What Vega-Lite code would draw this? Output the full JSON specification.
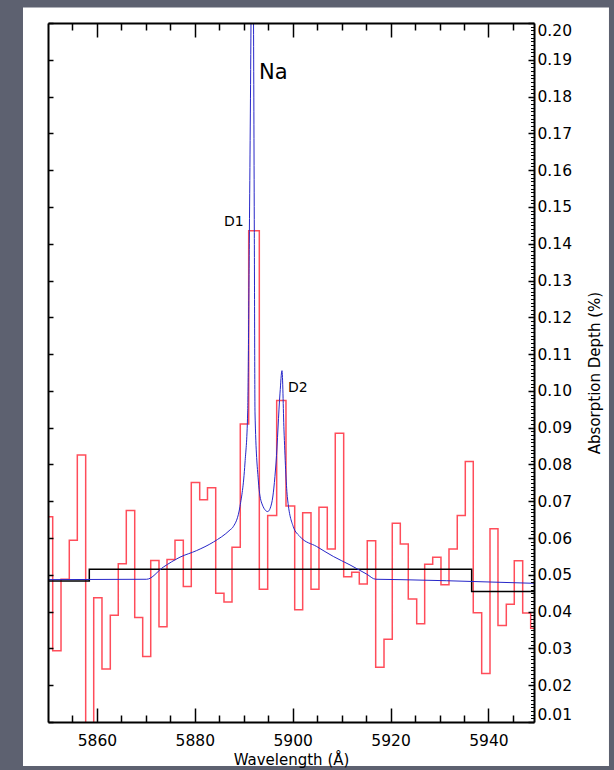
{
  "$schema": "https://vega.github.io/schema/vega-lite/v6.json",
  "autosize": {"type": "none"},
  "padding": {"left": 48, "top": 23, "right": 80, "bottom": 48},
  "width": 486,
  "height": 699,
  "background": "#5d6170",
  "config": {
    "view": {"stroke": null},
    "font": "DejaVu Sans",
    "axis": {"zindex": 1, "grid": false, "domainColor": "#000000", "domainWidth": 2, "tickColor": "#000000", "tickWidth": 1.5, "labelColor": "#000000", "titleColor": "#000000", "labelFont": "DejaVu Sans", "titleFont": "DejaVu Sans", "labelFontSize": 15.5, "titleFontSize": 15, "titleFontWeight": "normal"}
  },
  "datasets": {
    "spectrum": [
      {"w": 5850.00, "d": 0.0658}, {"w": 5850.96, "d": 0.0294}, {"w": 5852.66, "d": 0.0488}, {"w": 5854.35, "d": 0.0594},
      {"w": 5855.99, "d": 0.0826}, {"w": 5857.70, "d": 0.0}, {"w": 5859.34, "d": 0.0438}, {"w": 5861.03, "d": 0.0244},
      {"w": 5862.73, "d": 0.0390}, {"w": 5864.36, "d": 0.0530}, {"w": 5866.00, "d": 0.0675}, {"w": 5867.72, "d": 0.0384},
      {"w": 5869.35, "d": 0.0278}, {"w": 5870.99, "d": 0.0539}, {"w": 5872.68, "d": 0.0359}, {"w": 5874.32, "d": 0.0542},
      {"w": 5875.95, "d": 0.0594}, {"w": 5877.65, "d": 0.0468}, {"w": 5879.28, "d": 0.0751}, {"w": 5881.00, "d": 0.0704},
      {"w": 5882.59, "d": 0.0737}, {"w": 5884.27, "d": 0.0450}, {"w": 5885.96, "d": 0.0426}, {"w": 5887.60, "d": 0.0575},
      {"w": 5889.29, "d": 0.0910}, {"w": 5891.01, "d": 0.1435}, {"w": 5893.18, "d": 0.0461}, {"w": 5894.89, "d": 0.0661},
      {"w": 5896.73, "d": 0.0974}, {"w": 5898.63, "d": 0.0687}, {"w": 5900.41, "d": 0.0405}, {"w": 5902.04, "d": 0.0669},
      {"w": 5903.74, "d": 0.0461}, {"w": 5905.37, "d": 0.0684}, {"w": 5907.07, "d": 0.0570}, {"w": 5908.70, "d": 0.0885},
      {"w": 5910.42, "d": 0.0495}, {"w": 5912.06, "d": 0.0507}, {"w": 5913.61, "d": 0.0475}, {"w": 5915.24, "d": 0.0593},
      {"w": 5916.96, "d": 0.0249}, {"w": 5918.66, "d": 0.0325}, {"w": 5920.35, "d": 0.0640}, {"w": 5921.99, "d": 0.0584},
      {"w": 5923.62, "d": 0.0434}, {"w": 5925.34, "d": 0.0367}, {"w": 5926.97, "d": 0.0529}, {"w": 5928.61, "d": 0.0548},
      {"w": 5930.30, "d": 0.0473}, {"w": 5931.94, "d": 0.0570}, {"w": 5933.63, "d": 0.0661}, {"w": 5935.27, "d": 0.0808},
      {"w": 5936.90, "d": 0.0397}, {"w": 5938.62, "d": 0.0232}, {"w": 5940.32, "d": 0.0625}, {"w": 5941.95, "d": 0.0362},
      {"w": 5943.65, "d": 0.0420}, {"w": 5945.28, "d": 0.0538}, {"w": 5947.00, "d": 0.0396}, {"w": 5948.63, "d": 0.0355},
      {"w": 5949.31, "d": 0.0355}
    ],
    "model": [
      {"w": 5850.00, "d": 0.0487}, {"w": 5870.17, "d": 0.0488}, {"w": 5873.56, "d": 0.0521}, {"w": 5876.97, "d": 0.0548},
      {"w": 5880.38, "d": 0.0566}, {"w": 5883.78, "d": 0.0589}, {"w": 5887.19, "d": 0.0622}, {"w": 5887.86, "d": 0.0631},
      {"w": 5889.23, "d": 0.0686}, {"w": 5890.25, "d": 0.0804}, {"w": 5890.80, "d": 0.0940}, {"w": 5891.13, "d": 0.1400},
      {"w": 5891.48, "d": 0.2000}, {"w": 5891.75, "d": 0.2600}, {"w": 5892.00, "d": 0.2000}, {"w": 5892.16, "d": 0.1430},
      {"w": 5892.30, "d": 0.0940}, {"w": 5892.97, "d": 0.0758}, {"w": 5893.67, "d": 0.0695}, {"w": 5894.89, "d": 0.0672},
      {"w": 5895.71, "d": 0.0695}, {"w": 5896.59, "d": 0.0804}, {"w": 5897.41, "d": 0.0994}, {"w": 5897.81, "d": 0.1055},
      {"w": 5898.22, "d": 0.0894}, {"w": 5898.90, "d": 0.0713}, {"w": 5900.12, "d": 0.0631}, {"w": 5901.49, "d": 0.0604},
      {"w": 5904.90, "d": 0.0577}, {"w": 5908.30, "d": 0.0550}, {"w": 5911.71, "d": 0.0527}, {"w": 5915.12, "d": 0.0502},
      {"w": 5916.96, "d": 0.0488}, {"w": 5921.93, "d": 0.0487}, {"w": 5931.47, "d": 0.0484}, {"w": 5949.31, "d": 0.0477}
    ],
    "fit": [
      {"w": 5850.00, "d": 0.0483}, {"w": 5858.44, "d": 0.0515}, {"w": 5936.57, "d": 0.0455}, {"w": 5949.31, "d": 0.0455}
    ],
    "notes": [
      {"w": 5893.11, "d": 0.1865, "t": "Na", "s": 21},
      {"w": 5885.96, "d": 0.1458, "t": "D1", "s": 14},
      {"w": 5899.04, "d": 0.1009, "t": "D2", "s": 14}
    ],
    "panel": [{"w0": 5844.89, "w1": 5964.63, "d0": -0.00197, "d1": 0.2042}]
  },
  "resolve": {"axis": {"x": "independent", "y": "independent"}},
  "layer": [
    {
      "data": {"name": "panel"},
      "mark": {"type": "rect", "fill": "#ffffff", "clip": false},
      "encoding": {
        "x": {"field": "w0", "type": "quantitative", "scale": {"domain": [5850, 5949.31], "nice": false, "zero": false},
              "axis": {"zindex": 2, "orient": "bottom", "values": [5860, 5880, 5900, 5920, 5940], "format": "d", "tickSize": -14, "labelPadding": 25, "title": "Wavelength (Å)", "titlePadding": 4}},
        "x2": {"field": "w1"},
        "y": {"field": "d0", "type": "quantitative", "scale": {"domain": [0.01, 0.20], "nice": false, "zero": false},
              "axis": {"zindex": 2, "orient": "left", "values": [0.01,0.02,0.03,0.04,0.05,0.06,0.07,0.08,0.09,0.10,0.11,0.12,0.13,0.14,0.15,0.16,0.17,0.18,0.19,0.20], "tickSize": -5, "labels": false, "title": null}},
        "y2": {"field": "d1"}
      }
    },
    {
      "data": {"name": "spectrum"},
      "mark": {"type": "line", "interpolate": "step-after", "color": "#ff4d5a", "strokeWidth": 1.5, "clip": true},
      "encoding": {
        "x": {"field": "w", "type": "quantitative",
              "axis": {"zindex": 2, "orient": "top", "values": [5860, 5880, 5900, 5920, 5940], "tickSize": -14, "labels": false, "title": null}},
        "y": {"field": "d", "type": "quantitative",
              "axis": {"zindex": 2, "orient": "right", "values": [0.01,0.02,0.03,0.04,0.05,0.06,0.07,0.08,0.09,0.10,0.11,0.12,0.13,0.14,0.15,0.16,0.17,0.18,0.19,0.20], "format": ".2f", "tickSize": -6, "labelPadding": 9, "labelFlush": true, "title": "Absorption Depth (%)", "titleAngle": 270, "titleBaseline": "top", "titlePadding": 16}}
      }
    },
    {
      "data": {"name": "fit"},
      "mark": {"type": "line", "interpolate": "step-after", "color": "#000000", "strokeWidth": 1.5, "clip": true},
      "encoding": {
        "x": {"field": "w", "type": "quantitative",
              "axis": {"zindex": 2, "orient": "bottom", "values": [5855, 5865, 5870, 5875, 5885, 5890, 5895, 5905, 5910, 5915, 5925, 5930, 5935, 5945], "tickSize": -7, "labels": false, "domain": false, "title": null}},
        "y": {"field": "d", "type": "quantitative",
              "axis": {"zindex": 2, "orient": "right", "values": [0.011,0.012,0.013,0.014,0.015,0.016,0.017,0.018,0.019,0.021,0.022,0.023,0.024,0.025,0.026,0.027,0.028,0.029,0.031,0.032,0.033,0.034,0.035,0.036,0.037,0.038,0.039,0.041,0.042,0.043,0.044,0.045,0.046,0.047,0.048,0.049,0.051,0.052,0.053,0.054,0.055,0.056,0.057,0.058,0.059,0.061,0.062,0.063,0.064,0.065,0.066,0.067,0.068,0.069,0.071,0.072,0.073,0.074,0.075,0.076,0.077,0.078,0.079,0.081,0.082,0.083,0.084,0.085,0.086,0.087,0.088,0.089,0.091,0.092,0.093,0.094,0.095,0.096,0.097,0.098,0.099,0.101,0.102,0.103,0.104,0.105,0.106,0.107,0.108,0.109,0.111,0.112,0.113,0.114,0.115,0.116,0.117,0.118,0.119,0.121,0.122,0.123,0.124,0.125,0.126,0.127,0.128,0.129,0.131,0.132,0.133,0.134,0.135,0.136,0.137,0.138,0.139,0.141,0.142,0.143,0.144,0.145,0.146,0.147,0.148,0.149,0.151,0.152,0.153,0.154,0.155,0.156,0.157,0.158,0.159,0.161,0.162,0.163,0.164,0.165,0.166,0.167,0.168,0.169,0.171,0.172,0.173,0.174,0.175,0.176,0.177,0.178,0.179,0.181,0.182,0.183,0.184,0.185,0.186,0.187,0.188,0.189,0.191,0.192,0.193,0.194,0.195,0.196,0.197,0.198,0.199], "tickSize": -3.5, "tickWidth": 1, "labels": false, "domain": false, "title": null}}
      }
    },
    {
      "data": {"name": "model"},
      "mark": {"type": "line", "interpolate": "monotone", "color": "#2626c8", "strokeWidth": 1, "clip": true},
      "encoding": {
        "x": {"field": "w", "type": "quantitative",
              "axis": {"zindex": 2, "orient": "top", "values": [5855, 5865, 5870, 5875, 5885, 5890, 5895, 5905, 5910, 5915, 5925, 5930, 5935, 5945], "tickSize": -7, "labels": false, "domain": false, "title": null}},
        "y": {"field": "d", "type": "quantitative", "axis": null}
      }
    },
    {
      "data": {"name": "notes"},
      "mark": {"type": "text", "align": "left", "baseline": "middle", "color": "#000000", "font": "DejaVu Sans"},
      "encoding": {
        "x": {"field": "w", "type": "quantitative", "axis": null},
        "y": {"field": "d", "type": "quantitative", "axis": null},
        "text": {"field": "t"},
        "size": {"field": "s", "type": "quantitative", "scale": null}
      }
    }
  ]
}
